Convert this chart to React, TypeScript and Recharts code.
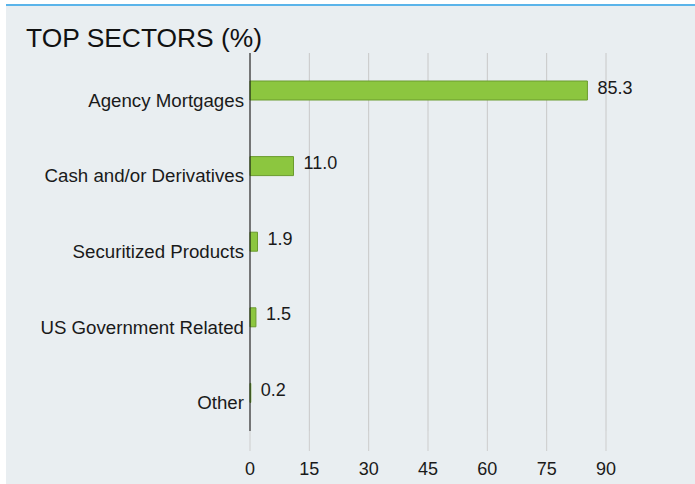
import { Bar, BarChart, CartesianGrid, LabelList, XAxis, YAxis } from 'recharts'

const sectors = [
  'Agency Mortgages',
  'Cash and/or Derivatives',
  'Securitized Products',
  'US Government Related',
  'Other',
]
const weights = [85.3, 11.0, 1.9, 1.5, 0.2]
const xTicks = [0, 15, 30, 45, 60, 75, 90]

const rows = sectors.map((name, i) => ({ name, value: weights[i] }))

const font = '"Liberation Sans", Arial, sans-serif'

function SectorTick({ x, y, payload }: any) {
  return (
    <text
      x={x}
      y={y + 16}
      textAnchor="end"
      fontSize={18.7}
      fontFamily={font}
      fill="#1a1a1a"
    >
      {payload.value}
    </text>
  )
}

function ValueLabel({ x, y, width, height, value }: any) {
  return (
    <text
      x={x + width + 10}
      y={y + height / 2 + 3}
      fontSize={18}
      fontFamily={font}
      fill="#1a1a1a"
    >
      {Number(value).toFixed(1)}
    </text>
  )
}

export default function App() {
  return (
    <div
      style={{
        position: 'absolute',
        left: 0,
        top: 0,
        width: 695,
        height: 484,
        background: '#fff',
        fontFamily: font,
      }}
    >
      <div
        style={{
          position: 'absolute',
          left: 6,
          top: 4,
          width: 689,
          height: 480,
          background: '#e9eef1',
          borderTop: '2px solid #5ab4ea',
          boxSizing: 'border-box',
        }}
      />
      <div
        style={{
          position: 'absolute',
          left: 26,
          top: 25,
          fontSize: 26.4,
          lineHeight: 1,
          color: '#111',
          whiteSpace: 'nowrap',
        }}
      >
        TOP SECTORS (%)
      </div>
      <div style={{ position: 'absolute', left: 0, top: 0 }}>
        <BarChart
          width={695}
          height={484}
          data={rows}
          layout="vertical"
          margin={{ top: 53, right: 89, bottom: 0, left: 10 }}
          barCategoryGap={0}
        >
          <CartesianGrid horizontal={false} stroke="#c8c8c8" />
          <XAxis
            type="number"
            domain={[0, 90]}
            ticks={xTicks}
            axisLine={false}
            tickSize={20}
            tickMargin={11}
            tickLine={{ stroke: '#cdcdcd' }}
            height={53}
            tick={{ fontSize: 18, fontFamily: font, fill: '#1a1a1a' }}
          />
          <YAxis
            type="category"
            dataKey="name"
            width={240}
            tickLine={false}
            tickMargin={0}
            axisLine={{ stroke: '#111' }}
            tick={<SectorTick />}
          />
          <Bar
            dataKey="value"
            fill="#8cc63f"
            stroke="#6b9b2e"
            strokeWidth={1}
            barSize={19}
            isAnimationActive={false}
          >
            <LabelList dataKey="value" content={<ValueLabel />} />
          </Bar>
        </BarChart>
      </div>
    </div>
  )
}
